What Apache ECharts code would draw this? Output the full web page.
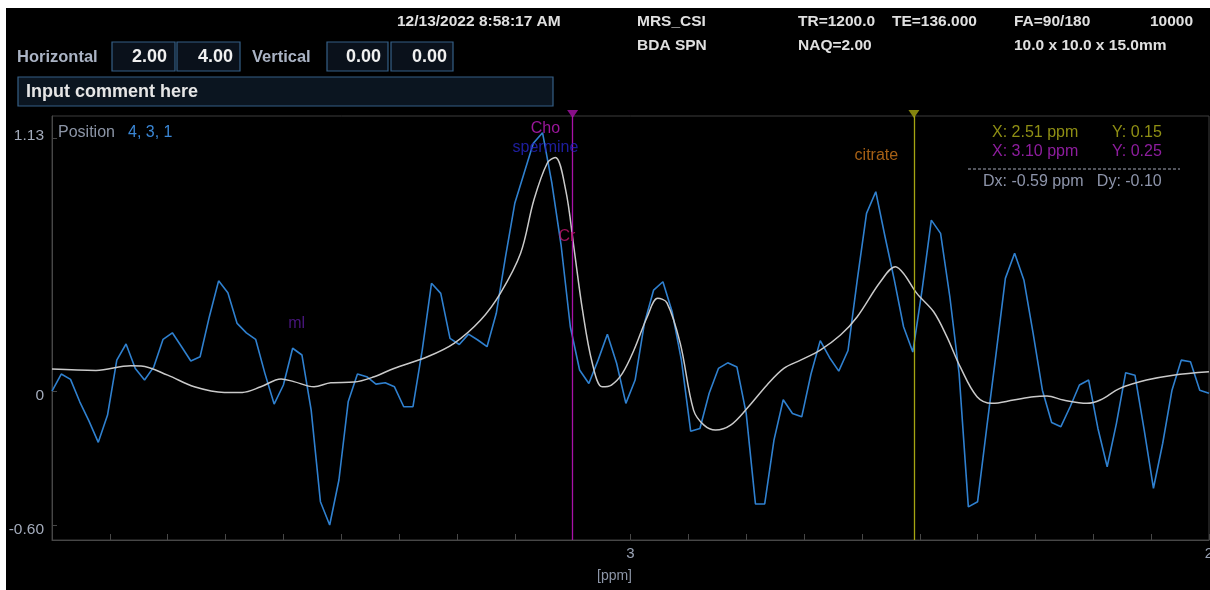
<!DOCTYPE html>
<html>
<head>
<meta charset="utf-8">
<script src="https://cdn.jsdelivr.net/npm/echarts@6/dist/echarts.min.js"></script>
<style>
  html, body { margin: 0; padding: 0; background: #fff; width: 1210px; height: 590px; overflow: hidden; }
  #chart { position: absolute; left: 6px; top: 8px; width: 1204px; height: 582px; background: #000; }
</style>
</head>
<body>
<div id="chart"></div>
<script>
// Spectral sampling grid (ppm), 4.0 -> 2.0 in 0.016 ppm steps
const ppmAxis = [
  4.000, 3.984, 3.968, 3.952, 3.936, 3.920, 3.904, 3.888, 3.872, 3.856,
  3.840, 3.824, 3.808, 3.792, 3.776, 3.760, 3.744, 3.728, 3.712, 3.696,
  3.680, 3.664, 3.648, 3.632, 3.616, 3.600, 3.584, 3.568, 3.552, 3.536,
  3.520, 3.504, 3.488, 3.472, 3.456, 3.440, 3.424, 3.408, 3.392, 3.376,
  3.360, 3.344, 3.328, 3.312, 3.296, 3.280, 3.264, 3.248, 3.232, 3.216,
  3.200, 3.184, 3.168, 3.152, 3.136, 3.120, 3.104, 3.088, 3.072, 3.056,
  3.040, 3.024, 3.008, 2.992, 2.976, 2.960, 2.944, 2.928, 2.912, 2.896,
  2.880, 2.864, 2.848, 2.832, 2.816, 2.800, 2.784, 2.768, 2.752, 2.736,
  2.720, 2.704, 2.688, 2.672, 2.656, 2.640, 2.624, 2.608, 2.592, 2.576,
  2.560, 2.544, 2.528, 2.512, 2.496, 2.480, 2.464, 2.448, 2.432, 2.416,
  2.400, 2.384, 2.368, 2.352, 2.336, 2.320, 2.304, 2.288, 2.272, 2.256,
  2.240, 2.224, 2.208, 2.192, 2.176, 2.160, 2.144, 2.128, 2.112, 2.096,
  2.080, 2.064, 2.048, 2.032, 2.016, 2.000
];

// Measured spectrum (real part), one value per grid point
const spectrum = [
  0.000, 0.076, 0.052, -0.048, -0.134, -0.229, -0.107, 0.138, 0.210, 0.101,
  0.049, 0.108, 0.231, 0.260, 0.198, 0.134, 0.153, 0.332, 0.492, 0.439,
  0.302, 0.260, 0.231, 0.079, -0.058, 0.027, 0.191, 0.161, -0.085, -0.494,
  -0.598, -0.397, -0.048, 0.076, 0.064, 0.031, 0.037, 0.019, -0.070, -0.070,
  0.183, 0.481, 0.436, 0.235, 0.208, 0.254, 0.228, 0.198, 0.347, 0.600,
  0.838, 0.972, 1.106, 1.153, 0.929, 0.652, 0.287, 0.094, 0.034, 0.138,
  0.254, 0.124, -0.055, 0.049, 0.302, 0.451, 0.488, 0.354, 0.138, -0.179,
  -0.167, -0.010, 0.101, 0.126, 0.107, -0.100, -0.504, -0.504, -0.219, -0.039,
  -0.100, -0.115, 0.076, 0.225, 0.150, 0.089, 0.181, 0.496, 0.793, 0.890,
  0.689, 0.496, 0.287, 0.174, 0.451, 0.763, 0.704, 0.421, 0.079, -0.517,
  -0.494, -0.159, 0.168, 0.503, 0.615, 0.496, 0.258, 0.004, -0.140, -0.159,
  -0.070, 0.027, 0.049, -0.167, -0.338, -0.144, 0.082, 0.071, -0.174, -0.434,
  -0.233, 0.004, 0.138, 0.131, 0.004, -0.010
];

// Fitted baseline + model curve
const fitPpm = [
  4.000, 3.924, 3.864, 3.846, 3.800, 3.754, 3.702, 3.671, 3.639, 3.604,
  3.582, 3.547, 3.518, 3.478, 3.443, 3.409, 3.351, 3.305, 3.259, 3.225,
  3.190, 3.167, 3.144, 3.130, 3.112, 3.098, 3.083, 3.066, 3.049, 3.033,
  3.014, 2.994, 2.971, 2.953, 2.937, 2.914, 2.891, 2.873, 2.853, 2.827,
  2.798, 2.764, 2.735, 2.706, 2.672, 2.637, 2.608, 2.568, 2.542, 2.528,
  2.505, 2.476, 2.453, 2.430, 2.401, 2.375, 2.338, 2.303, 2.280, 2.252,
  2.211, 2.188, 2.154, 2.108, 2.062, 2.000
];
const fitValues = [
  0.098, 0.092, 0.113, 0.112, 0.071, 0.019, -0.006, -0.006, 0.019, 0.054,
  0.042, 0.019, 0.037, 0.040, 0.064, 0.101, 0.153, 0.213, 0.317, 0.436,
  0.615, 0.853, 1.017, 1.043, 0.897, 0.644, 0.362, 0.124, 0.019, 0.027,
  0.079, 0.183, 0.332, 0.414, 0.394, 0.213, -0.085, -0.152, -0.174, -0.152,
  -0.076, 0.027, 0.101, 0.138, 0.183, 0.250, 0.332, 0.488, 0.555, 0.525,
  0.436, 0.354, 0.242, 0.108, -0.025, -0.055, -0.040, -0.025, -0.022, -0.040,
  -0.055, -0.040, 0.012, 0.049, 0.071, 0.086
];

// Two cursors: [yellow, magenta]
const cursorPpm = [2.51, 3.10];
const cursorY = [0.15, 0.25];

// Y-axis annotated values
const yTickValues = [-0.60, 0, 1.13];

// Metabolite tags
const peakNames = ['Cho', 'spermine', 'Cr', 'ml', 'citrate'];

// Header text
const scanDate = '12/13/2022 8:58:17 AM';
const protocol = ['MRS_CSI', 'BDA SPN'];
const params = ['TR=1200.0', 'TE=136.000', 'NAQ=2.00', 'FA=90/180', '10000', '10.0 x 10.0 x 15.0mm'];
const horizRange = ['2.00', '4.00'];
const vertRange = ['0.00', '0.00'];
const voxelPos = '4, 3, 1';

// ---------- layout / style ----------
const Y_MIN = -0.665, Y_MAX = 1.228;
const FONT = '"Liberation Sans", Arial, sans-serif';
const cursorColors = ['#a5a512', '#a812a8'];
const cursorTextColors = ['#8f8f14', '#8e1d9e'];
const tagStyle = {
  Cho: { at: [3.147, 1.174], color: '#c21cc2' },
  spermine: { at: [3.147, 1.089], color: '#2626c4' },
  Cr: { at: [3.110, 0.688], color: '#c4166f' },
  ml: { at: [3.577, 0.299], color: '#5a1c9c' },
  citrate: { at: [2.575, 1.049], color: '#d0781a' }
};

const chart = echarts.init(document.getElementById('chart'), null, { renderer: 'canvas' });

const spectrumData = ppmAxis.map((p, i) => [p, spectrum[i]]);
const fitData = fitPpm.map((p, i) => [p, fitValues[i]]);

function txt(x, y, text, color, font, align) {
  return {
    type: 'text', x: x, y: y, silent: true,
    style: { text: text, fill: color, font: font, textAlign: align || 'left', textVerticalAlign: 'middle' }
  };
}
function box(x, y, w, h, stroke, fill) {
  return { type: 'rect', shape: { x: x, y: y, width: w, height: h }, silent: true,
    style: { fill: fill, stroke: stroke, lineWidth: 1.2 } };
}

const hdrFont = 'bold 15.5px ' + FONT;
const lblFont = 'bold 16.5px ' + FONT;
const valFont = 'bold 18px ' + FONT;
const plotFont = '16px ' + FONT;
const hdrColor = '#e0e0e0';

const dx = (cursorPpm[0] - cursorPpm[1]).toFixed(2);
const dy = (cursorY[0] - cursorY[1]).toFixed(2);

const graphics = [
  txt(391, 14, scanDate, hdrColor, hdrFont),
  txt(631, 14, protocol[0], hdrColor, hdrFont),
  txt(631, 38, protocol[1], hdrColor, hdrFont),
  txt(792, 14, params[0], hdrColor, hdrFont),
  txt(886, 14, params[1], hdrColor, hdrFont),
  txt(792, 38, params[2], hdrColor, hdrFont),
  txt(1008, 14, params[3], hdrColor, hdrFont),
  txt(1187, 14, params[4], hdrColor, hdrFont, 'right'),
  txt(1008, 38, params[5], hdrColor, hdrFont),

  txt(11, 49, 'Horizontal', '#aab3c4', lblFont),
  box(106, 34, 63, 29, '#355f86', '#0a111b'),
  box(171, 34, 63, 29, '#355f86', '#0a111b'),
  txt(161, 49, horizRange[0], '#f0f0f0', valFont, 'right'),
  txt(227, 49, horizRange[1], '#f0f0f0', valFont, 'right'),
  txt(246, 49, 'Vertical', '#aab3c4', lblFont),
  box(321, 34, 61, 29, '#355f86', '#0a111b'),
  box(385, 34, 62, 29, '#355f86', '#0a111b'),
  txt(375, 49, vertRange[0], '#f0f0f0', valFont, 'right'),
  txt(441, 49, vertRange[1], '#f0f0f0', valFont, 'right'),
  box(12, 69, 535, 29, '#355f86', '#0b1520'),
  txt(20, 84, 'Input comment here', '#e6e6e6', valFont),

  txt(52, 125, 'Position', '#8c95a6', plotFont),
  txt(122, 125, voxelPos, '#3a86d4', plotFont),

  txt(986, 125, 'X: ' + cursorPpm[0].toFixed(2) + ' ppm', cursorTextColors[0], plotFont),
  txt(1106, 125, 'Y: ' + cursorY[0].toFixed(2), cursorTextColors[0], plotFont),
  txt(986, 144, 'X: ' + cursorPpm[1].toFixed(2) + ' ppm', cursorTextColors[1], plotFont),
  txt(1106, 144, 'Y: ' + cursorY[1].toFixed(2), cursorTextColors[1], plotFont),
  { type: 'line', silent: true, shape: { x1: 962, y1: 161, x2: 1174, y2: 161 },
    style: { stroke: '#a4a8b8', lineWidth: 1, lineDash: [3, 2] } },
  txt(977, 174, 'Dx: ' + dx + ' ppm   Dy: ' + dy, '#8d94aa', plotFont)
];

const option = {
  backgroundColor: '#000',
  animation: false,
  graphic: graphics,
  grid: {
    left: 46, right: 1, top: 108, bottom: 50, outerBoundsMode: 'none', containLabel: false,
    show: true, borderColor: '#3c3c3c', borderWidth: 1, backgroundColor: 'transparent'
  },
  xAxis: {
    type: 'value', inverse: true, min: 2, max: 4, interval: 0.1,
    name: '[ppm]', nameLocation: 'middle', nameGap: 29,
    nameTextStyle: { color: '#8d96a8', fontSize: 14, fontFamily: FONT, padding: [0, 32, 0, 0] },
    axisLine: { show: true, onZero: false, lineStyle: { color: '#474747', width: 1 } },
    axisTick: { show: true, inside: true, length: 6, lineStyle: { color: '#474747' } },
    axisLabel: {
      color: '#9aa3b5', fontSize: 15, fontFamily: FONT, margin: 6,
      showMaxLabel: false, hideOverlap: false,
      formatter: function (v) {
        const r = Math.round(v);
        return (Math.abs(v - r) < 1e-6 && r < 4) ? String(r) : '';
      }
    },
    splitLine: { show: false }
  },
  yAxis: {
    type: 'value', min: Y_MIN, max: Y_MAX,
    axisLine: { show: true, onZero: false, lineStyle: { color: '#474747', width: 1 } },
    axisTick: { show: true, inside: true, length: 5, customValues: yTickValues, lineStyle: { color: '#474747' } },
    axisLabel: {
      color: '#a3abbb', fontSize: 15.5, fontFamily: FONT, margin: 8,
      customValues: yTickValues,
      formatter: function (v) {
        if (Math.abs(v) < 1e-9) return '{low|0}';
        return v > 1 ? '{top|' + v.toFixed(2) + '}' : '{low|' + v.toFixed(2) + '}';
      },
      rich: {
        low: { color: '#a3abbb', fontSize: 15.5, fontFamily: FONT, padding: [9, 0, 0, 0] },
        top: { color: '#a3abbb', fontSize: 15.5, fontFamily: FONT, padding: [0, 0, 4, 0] }
      }
    },
    splitLine: { show: false }
  },
  series: [
    {
      name: 'spectrum', type: 'line', data: spectrumData, showSymbol: false,
      lineStyle: { color: '#2f80cf', width: 1.6 }, z: 3
    },
    {
      name: 'fit', type: 'line', data: fitData, showSymbol: false, smooth: 0.35,
      lineStyle: { color: '#cacaca', width: 1.5 }, z: 4
    },
    {
      name: 'cursors', type: 'line', data: [], z: 5,
      markLine: {
        silent: true, symbol: ['none', 'none'], label: { show: false },
        data: cursorPpm.map((p, i) => ({ xAxis: p, lineStyle: { color: cursorColors[i], width: 1.3, type: 'solid' } }))
      }
    },
    {
      name: 'cursorHandles', type: 'scatter', clip: false, silent: true, z: 6,
      symbol: 'triangle', symbolRotate: 180, symbolSize: [11, 8], symbolOffset: [0, -2],
      data: cursorPpm.map((p, i) => ({ value: [p, Y_MAX], itemStyle: { color: cursorColors[i] } }))
    },
    {
      name: 'tags', type: 'scatter', symbolSize: 0, silent: true, z: 7, clip: false,
      data: peakNames.map(n => ({
        value: tagStyle[n].at,
        label: { show: true, position: 'inside', formatter: n, color: tagStyle[n].color, fontSize: 16, fontFamily: FONT }
      }))
    }
  ]
};

chart.setOption(option);
</script>
</body>
</html>
